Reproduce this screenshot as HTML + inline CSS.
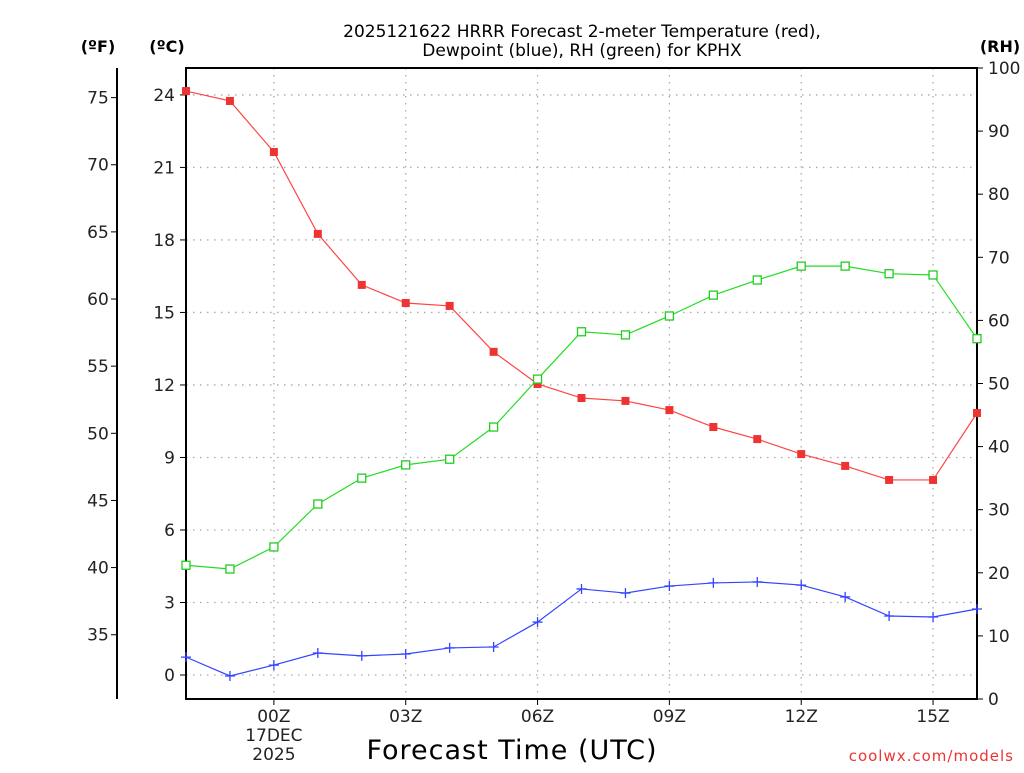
<!DOCTYPE html>
<html><head><meta charset="utf-8"><style>
html,body{margin:0;padding:0;background:#fff;}
svg text{font-family:"DejaVu Sans","Liberation Sans",sans-serif;}
</style></head><body>
<svg id="chart" width="1024" height="768" xmlns="http://www.w3.org/2000/svg">
<g id="grid"></g>
<g id="axes"></g>
<g id="series"></g>
<text x="582" y="37" font-size="17" text-anchor="middle">2025121622 HRRR Forecast 2-meter Temperature (red),</text>
<text x="582" y="56" font-size="17" text-anchor="middle">Dewpoint (blue), RH (green) for KPHX</text>
<text x="98" y="52" font-size="16" font-weight="bold" text-anchor="middle">(ºF)</text>
<text x="167" y="52" font-size="16" font-weight="bold" text-anchor="middle">(ºC)</text>
<text x="1000" y="52" font-size="16" font-weight="bold" text-anchor="middle">(RH)</text>
<text x="512" y="759" font-size="27" text-anchor="middle" letter-spacing="1">Forecast Time (UTC)</text>
<text x="1014" y="761" font-size="15" fill="#ee3333" text-anchor="end" letter-spacing="1">coolwx.com/models</text>
</svg>
<script>
const hours=[-2,-1,0,1,2,3,4,5,6,7,8,9,10,11,12,13,14,15,16];
const tempC=[24.16,23.75,21.64,18.25,16.14,15.39,15.27,13.37,12.04,11.46,11.34,10.96,10.26,9.76,9.14,8.65,8.07,8.07,10.84];
const dewC=[0.74,-0.04,0.41,0.91,0.79,0.87,1.12,1.16,2.19,3.56,3.39,3.68,3.81,3.85,3.72,3.23,2.44,2.40,2.73];
const rh=[21.2,20.6,24.1,30.9,35.0,37.1,38.0,43.1,50.7,58.2,57.7,60.7,64.0,66.4,68.6,68.6,67.4,67.2,57.1];
const cTicks=[0,3,6,9,12,15,18,21,24];
const fTicks=[35,40,45,50,55,60,65,70,75];
const rhTicks=[0,10,20,30,40,50,60,70,80,90,100];
const xTickHours=[0,3,6,9,12,15];
const xTickLabels=["00Z","03Z","06Z","09Z","12Z","15Z"];

const L=186,R=977,T=68,B=699;
const NS="http://www.w3.org/2000/svg";
const xs=h=>L+(h+2)*(R-L)/18;
const yC=c=>675-c*24.17;
const yF=f=>yC((f-32)*5/9);
const yRH=v=>B-v*(B-T)/100;
function mk(p,tag,a){const e=document.createElementNS(NS,tag);for(const k in a)e.setAttribute(k,a[k]);p.appendChild(e);return e;}
const grid=document.getElementById('grid'),axes=document.getElementById('axes'),series=document.getElementById('series');
const dash={stroke:'#aaa','stroke-width':1.3,'stroke-dasharray':'1.5,5.5'};
cTicks.forEach(c=>{
  const y=yC(c);
  if(c>0||true){const g=mk(grid,'line',Object.assign({x1:L,x2:R,y1:y,y2:y},dash));
  
  }
  mk(axes,'line',{x1:L-6,x2:L,y1:y,y2:y,stroke:'#000','stroke-width':1});
  const t=mk(axes,'text',{x:L-11,y:y+6,'font-size':17,'text-anchor':'end',fill:'#222'});t.textContent=c;
  
  
});
xTickHours.forEach((h,i)=>{
  const x=xs(h);
  const g=mk(grid,'line',Object.assign({x1:x,x2:x,y1:T,y2:B},dash));
  
  
  mk(axes,'line',{x1:x,x2:x,y1:B,y2:B+6,stroke:'#000','stroke-width':1});
  const t=mk(axes,'text',{x:x,y:722,'font-size':17,'text-anchor':'middle',fill:'#222'});t.textContent=xTickLabels[i];
  
  
});
[["17DEC",741],["2025",760]].forEach(d=>{const t=mk(axes,'text',{x:xs(0),y:d[1],'font-size':17,'text-anchor':'middle',fill:'#222'});t.textContent=d[0];
  
  });
mk(axes,'rect',{x:L,y:T,width:R-L,height:B-T,fill:'none',stroke:'#000','stroke-width':2});
mk(axes,'line',{x1:117,x2:117,y1:T,y2:B,stroke:'#000','stroke-width':2});
fTicks.forEach(f=>{const y=yF(f);mk(axes,'line',{x1:111,x2:117,y1:y,y2:y,stroke:'#000','stroke-width':1});
  const t=mk(axes,'text',{x:98,y:y+6,'font-size':17,'text-anchor':'middle',fill:'#222'});t.textContent=f;
  
  });
rhTicks.forEach(v=>{const y=yRH(v);mk(axes,'line',{x1:R,x2:R+6,y1:y,y2:y,stroke:'#000','stroke-width':1});
  const t=mk(axes,'text',{x:988,y:y+6,'font-size':17,fill:'#222'});t.textContent=v;
  
  });
function line(vals,yf,col,name){
  const p=mk(series,'polyline',{points:vals.map((v,i)=>xs(hours[i])+','+yf(v)).join(' '),fill:'none',stroke:col,'stroke-width':1.2});
  
  
}
line(tempC,yC,'#ff4444','temperature-line');
line(dewC,yC,'#3344ff','dewpoint-line');
line(rh,yRH,'#22dd22','rh-line');
tempC.forEach((v,i)=>{const m=mk(series,'rect',{x:xs(hours[i])-4,y:yC(v)-4,width:8,height:8,fill:'#ee3333'});
  
  });
dewC.forEach((v,i)=>{const x=xs(hours[i]),y=yC(v);const m=mk(series,'path',{d:`M${x-5},${y}H${x+5}M${x},${y-5}V${y+5}`,stroke:'#3344ff','stroke-width':1.3});
  
  });
rh.forEach((v,i)=>{const m=mk(series,'rect',{x:xs(hours[i])-4,y:yRH(v)-4,width:8,height:8,fill:'#fff',stroke:'#22cc22','stroke-width':1.3});
  
  });
</script>
</body></html>
